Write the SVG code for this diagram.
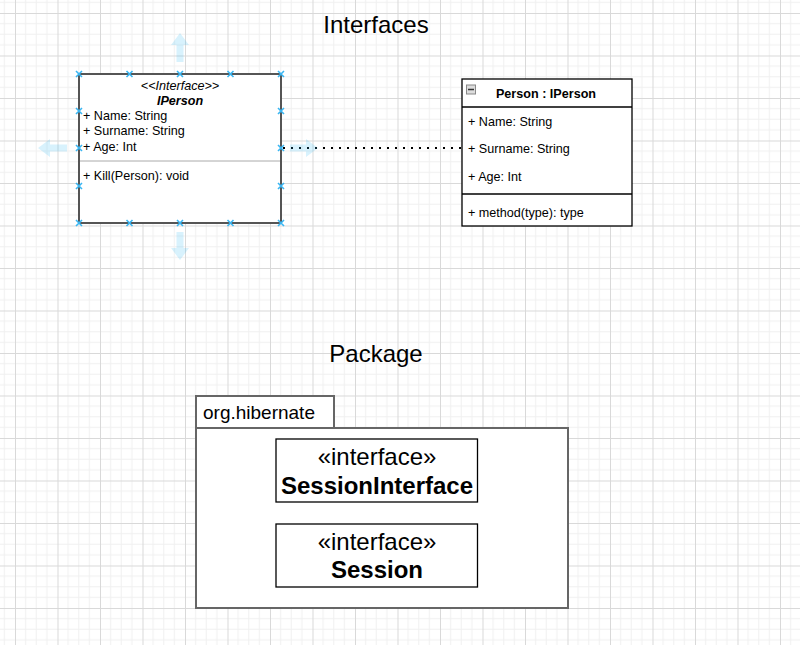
<svg xmlns="http://www.w3.org/2000/svg" width="800" height="645" viewBox="0 0 800 645">
<style>
text{font-family:"Liberation Sans",Arial,sans-serif;fill:#000}
.t{font-size:24px}
.s{font-size:12.6px}
.b{font-weight:bold}
.h{stroke:#3ab6f2;stroke-width:1.6;fill:none}
.ar{fill:#29b6f2;fill-opacity:0.18}
</style>
<defs>
<pattern id="grid" x="15" y="13" width="42.5" height="42.5" patternUnits="userSpaceOnUse">
<path d="M10.625 0V42.5M21.25 0V42.5M31.875 0V42.5M0 10.625H42.5M0 21.25H42.5M0 31.875H42.5" stroke="#f0f0f0" stroke-width="1"/>
<path d="M0.5 0V42.5M0 0.5H42.5" stroke="#d9d9d9" stroke-width="1"/>
</pattern>
<g id="hx"><path class="h" d="M-3 -3L3 3M-3 3L3 -3"/></g>
</defs>
<rect width="800" height="645" fill="#fff"/>
<rect width="800" height="645" fill="url(#grid)"/>

<text class="t" x="376" y="33" text-anchor="middle">Interfaces</text>
<text class="t" x="376" y="362" text-anchor="middle">Package</text>

<g id="connectors">
<line x1="283" y1="148" x2="462" y2="148" stroke="#000" stroke-width="2" stroke-dasharray="2 6"/>
</g>

<g id="IPerson">
<rect x="79" y="74" width="202" height="149" fill="#fff" stroke="#555" stroke-width="2"/>
<line x1="80" y1="161" x2="280" y2="161" stroke="#aaa" stroke-width="1"/>
<text class="s" x="180" y="90" text-anchor="middle" font-style="italic">&lt;&lt;Interface&gt;&gt;</text>
<text class="s b" x="180" y="105" text-anchor="middle" font-style="italic">IPerson</text>
<text class="s" x="83" y="120">+ Name: String</text>
<text class="s" x="83" y="135">+ Surname: String</text>
<text class="s" x="83" y="151">+ Age: Int</text>
<text class="s" x="83" y="180">+ Kill(Person): void</text>
</g>

<g id="selection">
<path class="ar" d="M176.5 62V45H171L180 33L189 45H183.5V62Z"/>
<path class="ar" d="M176.5 232V248H171L180 260L189 248H183.5V232Z"/>
<path class="ar" d="M67 144.5H50V139L38 148L50 157V151.5H67Z"/>
<path class="ar" d="M290 144.5H306V139L318 148L306 157V151.5H290Z"/>
<use href="#hx" x="79" y="74"/><use href="#hx" x="129.5" y="74"/><use href="#hx" x="180" y="74"/><use href="#hx" x="230.5" y="74"/><use href="#hx" x="281" y="74"/>
<use href="#hx" x="79" y="223"/><use href="#hx" x="129.5" y="223"/><use href="#hx" x="180" y="223"/><use href="#hx" x="230.5" y="223"/><use href="#hx" x="281" y="223"/>
<use href="#hx" x="79" y="111"/><use href="#hx" x="79" y="148"/><use href="#hx" x="79" y="186"/>
<use href="#hx" x="281" y="111"/><use href="#hx" x="281" y="148"/><use href="#hx" x="281" y="186"/>
</g>

<g id="Person">
<rect x="462" y="79" width="170" height="147" fill="#fff" stroke="#000" stroke-width="1.3"/>
<line x1="462" y1="107" x2="632" y2="107" stroke="#000" stroke-width="1.3"/>
<line x1="462" y1="194" x2="632" y2="194" stroke="#000" stroke-width="1.3"/>
<rect x="466.5" y="85" width="9" height="9" fill="#ddd" stroke="#888" stroke-width="1"/>
<line x1="468" y1="89.5" x2="474" y2="89.5" stroke="#333" stroke-width="1.5"/>
<text class="s b" x="546" y="98" text-anchor="middle">Person : IPerson</text>
<text class="s" x="468" y="126">+ Name: String</text>
<text class="s" x="468" y="153">+ Surname: String</text>
<text class="s" x="468" y="181">+ Age: Int</text>
<text class="s" x="468" y="217">+ method(type): type</text>
</g>

<g id="package">
<path d="M196 428V396H334V428" fill="#fff" stroke="#666" stroke-width="2"/>
<rect x="196" y="428" width="372" height="180" fill="#fff" stroke="#666" stroke-width="2"/>
<text x="203" y="419" font-size="19">org.hibernate</text>
</g>

<g id="SessionInterface">
<rect x="276" y="439" width="201.5" height="63" fill="#fff" stroke="#000" stroke-width="1.3"/>
<text x="377" y="465" font-size="24" text-anchor="middle">«interface»</text>
<text x="377" y="494" font-size="24" font-weight="bold" text-anchor="middle">SessionInterface</text>
</g>

<g id="Session">
<rect x="276" y="524" width="201.5" height="63" fill="#fff" stroke="#000" stroke-width="1.3"/>
<text x="377" y="550" font-size="24" text-anchor="middle">«interface»</text>
<text x="377" y="578" font-size="24" font-weight="bold" text-anchor="middle">Session</text>
</g>
</svg>
